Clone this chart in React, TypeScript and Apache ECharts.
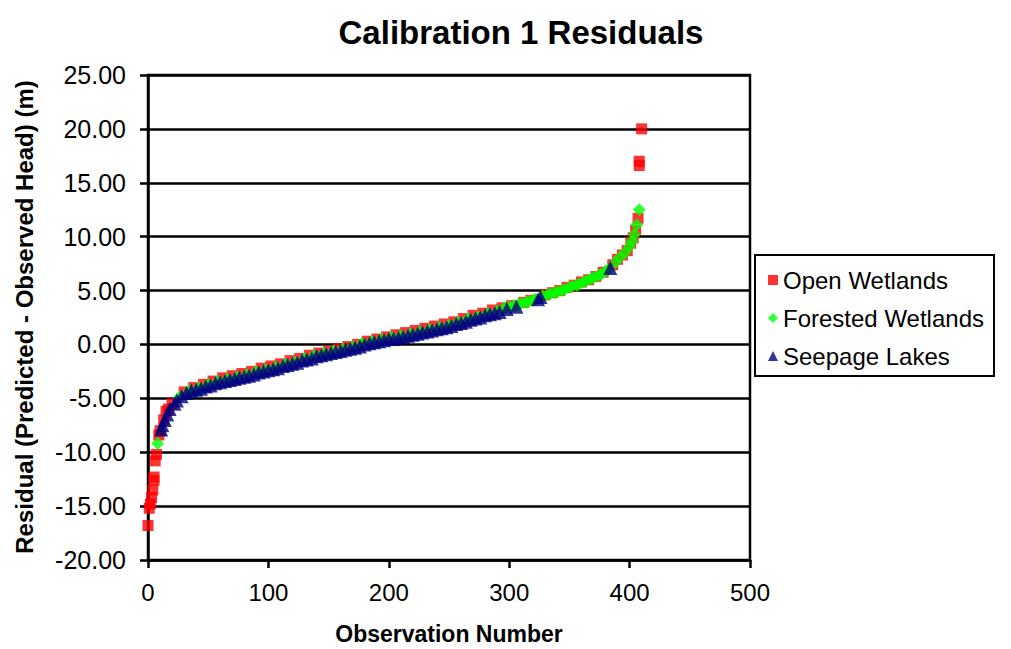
import React, { useEffect, useRef } from "react";
import * as echarts from "echarts";

const TITLE = "Calibration 1 Residuals";
const X_NAME = "Observation Number";
const Y_NAME = "Residual (Predicted - Observed Head) (m)";
const SERIES_NAMES = ["Open Wetlands", "Forested Wetlands", "Seepage Lakes"];

// [observation number, residual (m)]
const openWetlands: [number, number][] = [
  [0, -16.8], [1, -15.2], [2, -14.8], [3, -14.2], [4, -13.5], [5, -12.6], [5, -12.3],
  [6, -10.8], [7, -10.2], [9, -8.4], [10, -8.0], [13, -7.0], [15, -6.2], [17, -6.0],
  [20, -5.5], [30, -4.4], [38, -4.0], [46, -3.7], [54, -3.4], [62, -3.1], [70, -2.9],
  [78, -2.7], [86, -2.5], [94, -2.2], [102, -2.0], [110, -1.8], [118, -1.5], [126, -1.3],
  [134, -1.0], [142, -0.8], [150, -0.6], [158, -0.4], [166, -0.2], [174, 0.0], [182, 0.3],
  [190, 0.5], [198, 0.7], [206, 0.9], [214, 1.1], [222, 1.3], [230, 1.5], [238, 1.7],
  [246, 1.9], [254, 2.1], [262, 2.4], [270, 2.7], [278, 2.9], [286, 3.2], [294, 3.4],
  [302, 3.6], [312, 3.9], [318, 4.1], [330, 4.6], [336, 4.8], [342, 5.0], [348, 5.3],
  [354, 5.5], [360, 5.8], [366, 6.0], [372, 6.3], [378, 6.7], [386, 7.4], [390, 7.9],
  [394, 8.3], [398, 8.7], [401, 9.4], [403, 9.9], [405, 10.6], [407, 11.7],
  [408, 16.6], [408, 17.0], [410, 20.0],
];

const forestedWetlands: [number, number][] = [
  [8, -9.2], [26, -4.9], [34, -4.3], [42, -4.0], [50, -3.7], [58, -3.4], [66, -3.2],
  [74, -3.0], [82, -2.8], [90, -2.5], [98, -2.3], [106, -2.1], [114, -1.8], [122, -1.6],
  [130, -1.3], [138, -1.0], [146, -0.8], [154, -0.6], [162, -0.4], [170, -0.2], [178, 0.1],
  [186, 0.3], [194, 0.5], [202, 0.7], [210, 0.8], [218, 1.0], [226, 1.2], [234, 1.4],
  [242, 1.6], [250, 1.8], [258, 2.1], [266, 2.4], [274, 2.6], [282, 2.9], [290, 3.1],
  [296, 3.4], [300, 3.5], [304, 3.6], [308, 3.7], [310, 3.8], [314, 3.9], [316, 4.0],
  [320, 4.1], [322, 4.2], [328, 4.5], [332, 4.6], [334, 4.7], [338, 4.8], [340, 4.9],
  [344, 5.0], [346, 5.1], [350, 5.3], [352, 5.4], [356, 5.5], [358, 5.6], [362, 5.8],
  [364, 5.9], [368, 6.1], [370, 6.2], [374, 6.4], [376, 6.5], [380, 6.8], [382, 6.9],
  [388, 7.6], [392, 8.1], [396, 8.5], [400, 9.1], [402, 9.6], [404, 10.2], [406, 11.1],
  [408, 12.5],
];

const seepageLakes: [number, number][] = [
  [11, -7.9], [12, -7.5], [14, -7.0], [16, -6.5], [18, -6.0], [22, -5.5], [24, -5.2],
  [28, -4.8], [32, -4.5], [36, -4.3], [40, -4.2], [44, -4.1], [48, -3.9], [52, -3.8],
  [56, -3.6], [60, -3.5], [64, -3.4], [68, -3.3], [72, -3.2], [76, -3.1], [80, -3.0],
  [84, -2.9], [88, -2.8], [92, -2.6], [96, -2.5], [100, -2.4], [104, -2.3], [108, -2.2],
  [112, -2.0], [116, -1.9], [120, -1.8], [124, -1.7], [128, -1.5], [132, -1.4], [136, -1.3],
  [140, -1.1], [144, -1.0], [148, -0.9], [152, -0.8], [156, -0.7], [160, -0.6], [164, -0.5],
  [168, -0.4], [172, -0.3], [176, -0.2], [180, 0.0], [184, 0.1], [188, 0.2], [192, 0.3],
  [196, 0.4], [200, 0.5], [204, 0.5], [208, 0.6], [212, 0.7], [216, 0.8], [220, 0.9],
  [224, 1.0], [228, 1.1], [232, 1.2], [236, 1.3], [240, 1.4], [244, 1.5], [248, 1.6],
  [252, 1.7], [256, 1.9], [260, 2.0], [264, 2.1], [268, 2.3], [272, 2.4], [276, 2.5],
  [280, 2.7], [284, 2.8], [288, 2.9], [292, 3.0], [298, 3.3], [306, 3.5], [324, 4.2],
  [326, 4.4], [384, 7.1],
];

const X_MIN = 0, X_MAX = 500, X_STEP = 100;
const Y_MIN = -20, Y_MAX = 25, Y_STEP = 5;

const FONT = "'Liberation Sans', Arial, Helvetica, sans-serif";

export default function App() {
  const ref = useRef<HTMLDivElement>(null);
  useEffect(() => {
    if (!ref.current) return;
    const chart = echarts.init(ref.current, null, { renderer: "svg" });
    const axisLine = { show: true, onZero: false, lineStyle: { color: "#000", width: 2.5 } };
    chart.setOption({
      animation: false,
      backgroundColor: "#fff",
      textStyle: { fontFamily: FONT },
      title: {
        text: TITLE,
        left: 516,
        top: 11,
        textAlign: "center",
        textStyle: { fontFamily: FONT, fontSize: 33, fontWeight: "bold", color: "#000" },
      },
      grid: {
        left: 148, top: 75, width: 602, height: 485,
        show: true, borderColor: "#000", borderWidth: 2.5, backgroundColor: "#fff",
      },
      legend: {
        orient: "vertical",
        left: 755,
        top: 255,
        data: SERIES_NAMES,
        backgroundColor: "#fff",
        borderColor: "#000",
        borderWidth: 2,
        borderRadius: 0,
        padding: [13, 10, 8, 13],
        itemWidth: 10,
        itemHeight: 10,
        itemGap: 14,
        itemTextGap: 19,
        textStyle: { fontFamily: FONT, fontSize: 24, color: "#000" },
      },
      xAxis: {
        type: "value",
        min: X_MIN, max: X_MAX, interval: X_STEP,
        axisLine,
        axisTick: { show: true, inside: false, length: 8, lineStyle: { color: "#000", width: 2.5 } },
        axisLabel: { fontFamily: FONT, fontSize: 24, color: "#000", margin: 20 },
        splitLine: { show: false },
      },
      yAxis: {
        type: "value",
        min: Y_MIN, max: Y_MAX, interval: Y_STEP,
        axisLine,
        axisTick: { show: true, inside: false, length: 8, lineStyle: { color: "#000", width: 2.5 } },
        axisLabel: {
          fontFamily: FONT, fontSize: 25, color: "#000", margin: 22,
          formatter: (v: number) => v.toFixed(2),
        },
        splitLine: { show: true, lineStyle: { color: "#000", width: 2.5 } },
      },
      graphic: [
        {
          type: "text",
          x: 24, y: 317,
          rotation: Math.PI / 2,
          style: {
            text: Y_NAME, fontFamily: FONT, fontSize: 24, fontWeight: "bold", fill: "#000",
            textAlign: "center", textVerticalAlign: "middle",
          },
        },
        {
          type: "text",
          x: 449, y: 634,
          style: {
            text: X_NAME, fontFamily: FONT, fontSize: 23, fontWeight: "bold", fill: "#000",
            textAlign: "center", textVerticalAlign: "middle",
          },
        },
      ],
      series: [
        {
          name: SERIES_NAMES[0], type: "scatter", data: openWetlands,
          symbol: "rect", symbolSize: 11, itemStyle: { color: "#ff0000" }, z: 2,
        },
        {
          name: SERIES_NAMES[1], type: "scatter", data: forestedWetlands,
          symbol: "diamond", symbolSize: 13, itemStyle: { color: "#00ff00" }, z: 3,
        },
        {
          name: SERIES_NAMES[2], type: "scatter", data: seepageLakes,
          symbol: "triangle", symbolSize: 14, itemStyle: { color: "#000080" }, z: 4,
        },
      ],
    });
    return () => chart.dispose();
  }, []);
  return (
    <div
      ref={ref}
      style={{ position: "fixed", left: 0, top: 0, width: 1011, height: 649, background: "#fff" }}
    />
  );
}
